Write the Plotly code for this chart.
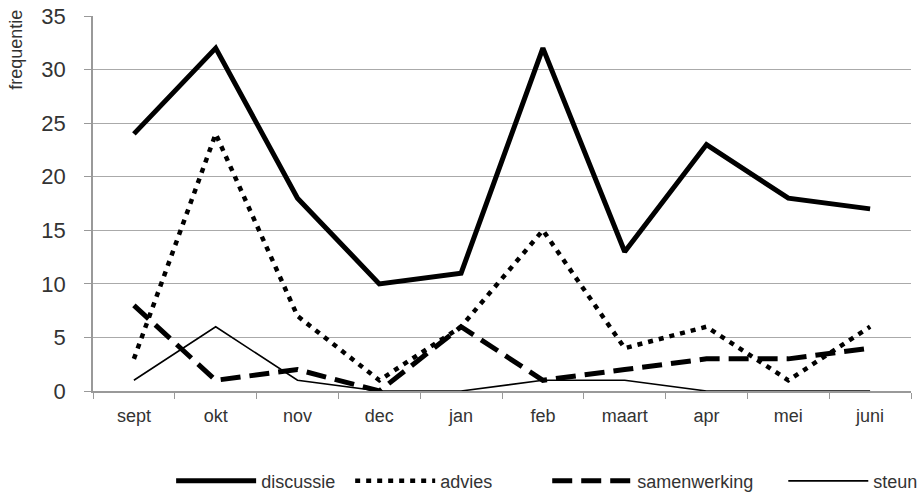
import plotly.graph_objects as go

months = ["sept", "okt", "nov", "dec", "jan", "feb", "maart", "apr", "mei", "juni"]
discussie = [24, 32, 18, 10, 11, 32, 13, 23, 18, 17]
advies = [3, 24, 7, 1, 6, 15, 4, 6, 1, 6]
samenwerking = [8, 1, 2, 0, 6, 1, 2, 3, 3, 4]
steun = [1, 6, 1, 0, 0, 1, 1, 0, 0, 0]
legend_names = ["discussie", "advies", "samenwerking", "steun"]

nb = "\u00a0"
fig = go.Figure()
fig.add_trace(go.Scatter(x=months, y=discussie, name=legend_names[0] + nb * 2, mode="lines",
                         line=dict(color="black", width=5)))
fig.add_trace(go.Scatter(x=months, y=advies, name=legend_names[1] + nb * 10, mode="lines",
                         line=dict(color="black", width=4.5, dash="5px,6px")))
fig.add_trace(go.Scatter(x=months, y=samenwerking, name=legend_names[2] + nb * 5, mode="lines",
                         line=dict(color="black", width=5, dash="20px,9px")))
fig.add_trace(go.Scatter(x=months, y=steun, name=legend_names[3], mode="lines",
                         line=dict(color="black", width=1.6)))

fig.update_layout(
    width=918, height=495,
    margin=dict(l=93, r=7, t=16, b=104, autoexpand=False),
    paper_bgcolor="white", plot_bgcolor="white",
    font=dict(family="Liberation Sans, Arial, sans-serif", color="#333"),
    showlegend=True,
    legend=dict(orientation="h", x=0.596, xanchor="center", xref="container",
                y=0.028, yanchor="middle", yref="container",
                font=dict(size=18), itemwidth=80, bgcolor="rgba(0,0,0,0)"),
    xaxis=dict(type="category", tickson="boundaries", ticks="outside", ticklen=6,
               tickcolor="#999", showline=True, linecolor="#999", linewidth=1.5,
               showgrid=False, tickfont=dict(size=18), range=[-0.5, 9.5], automargin=False,
               ticklabelstandoff=8),
    yaxis=dict(range=[0, 35], dtick=5, showgrid=True, gridcolor="#aaa", gridwidth=1.2,
               ticks="outside", ticklen=7, tickcolor="#999", showline=True,
               linecolor="#999", linewidth=1.5, tickfont=dict(size=22), zeroline=False,
               automargin=False, ticklabelstandoff=14),
)
fig.add_annotation(text="frequentie", textangle=-90, xref="paper", yref="paper",
                   x=-0.094, y=0.91, xanchor="center", yanchor="middle", showarrow=False,
                   font=dict(size=18, color="#333"))

fig.write_html("out.html", config={"displayModeBar": False},
               post_script="document.body.style.margin='0';")
